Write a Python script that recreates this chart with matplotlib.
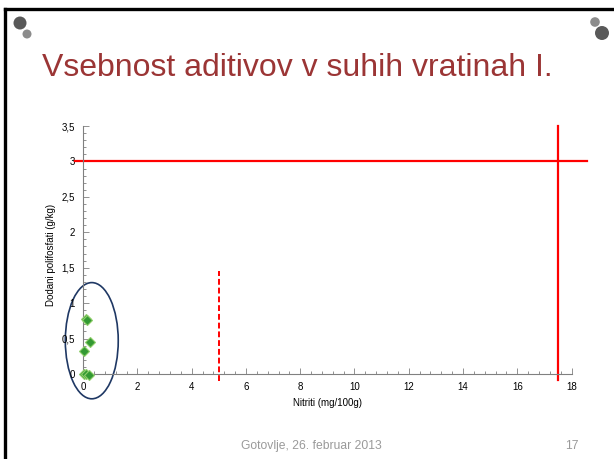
import matplotlib
matplotlib.use("Agg")
import matplotlib.pyplot as plt
from matplotlib.lines import Line2D
from matplotlib.patches import Ellipse

plt.rcParams['font.family'] = ['Liberation Sans', 'DejaVu Sans']

# podatki
nitriti = [0.10, 0.15, 0.27, 0.05, 0.05, 0.12, 0.20]
polifosfati = [0.78, 0.76, 0.45, 0.32, 0.0, 0.0, -0.01]
meja_p = 3.0          # mejna vrednost polifosfatov (g/kg)
meja_n = 17.5         # mejna vrednost nitritov (mg/100g)
meja_n2 = 5.0         # nižja meja nitritov
x_ticks = [0, 2, 4, 6, 8, 10, 12, 14, 16, 18]
y_ticks = [0, 0.5, 1, 1.5, 2, 2.5, 3, 3.5]
y_labels = ["0", "0,5", "1", "1,5", "2", "2,5", "3", "3,5"]

W, H = 614, 459
fig = plt.figure(figsize=(W / 100, H / 100), dpi=100)


def fx(px):
    return px / W


def fy(py):
    return 1 - py / H


# okvir prosojnice
fig.add_artist(Line2D([fx(5), fx(614)], [fy(9), fy(9)], color='black', lw=2.4))
fig.add_artist(Line2D([fx(5), fx(5)], [fy(9), fy(459)], color='black', lw=2.4))

# okrasni krogi
for cx, cy, r, c in [(20, 23, 6.5, '#595959'), (27, 34, 4.5, '#8c8c8c'),
                     (595, 22, 4.8, '#8c8c8c'), (602, 33, 7, '#595959')]:
    fig.add_artist(Ellipse((fx(cx), fy(cy)), 2 * r / W, 2 * r / H,
                           transform=fig.transFigure, color=c, lw=0))

fig.text(fx(42), fy(76), "Vsebnost aditivov v suhih vratinah I.",
         color='#9B3535', fontsize=23, ha='left', va='baseline')
fig.text(fx(311), fy(446), "Gotovlje, 26. februar 2013", color='#9a9a9a',
         fontsize=8.7, ha='center', va='center')
fig.text(fx(579), fy(446), "17", color='#9a9a9a', fontsize=8.7,
         ha='right', va='center')

ax = fig.add_axes([fx(83.1), fy(374), fx(571.6) - fx(83.1), fy(126) - fy(374)])
ax.set_xlim(0, 18)
ax.set_ylim(0, 3.5)

for s in ['top', 'right']:
    ax.spines[s].set_visible(False)
for s in ['left', 'bottom']:
    ax.spines[s].set_color('#808080')
    ax.spines[s].set_linewidth(0.8)

ax.set_xticks(x_ticks)
ax.set_xticks([i * 0.4 for i in range(46)], minor=True)
ax.set_yticks(y_ticks)
ax.set_yticklabels(y_labels)
ax.set_yticks([i * 0.1 for i in range(36)], minor=True)
ax.tick_params(which='both', direction='in', color='#808080', labelsize=7,
               width=0.6)
ax.tick_params(which='major', length=4, pad=6)
ax.tick_params(which='minor', length=2.5)

ax.set_xlabel("Nitriti (mg/100g)", fontsize=7, labelpad=4)
ax.set_ylabel("Dodani polifosfati (g/kg)", fontsize=7)
ax.yaxis.set_label_coords(-0.055, 0.48)

ax.plot([-0.3, 18.55], [meja_p, meja_p], color='#FF0000', lw=1.6, clip_on=False)
ax.plot([meja_n, meja_n], [-0.09, 3.5], color='#FF0000', lw=1.6, clip_on=False)
ax.plot([meja_n2, meja_n2], [-0.1, 1.45], color='#FF0000', lw=1.4,
        dashes=(3, 1.5), clip_on=False)

ax.plot(nitriti, polifosfati, 'D', color='#339933', markeredgecolor='#8fcf6a',
        markersize=5.5, markeredgewidth=0.8, clip_on=False, zorder=5)

ax.add_patch(Ellipse((0.32, 0.47), 1.95, 1.64, fill=False, edgecolor='#1F3864',
                     lw=1.2, clip_on=False))

fig.savefig("out.png", dpi=100)
